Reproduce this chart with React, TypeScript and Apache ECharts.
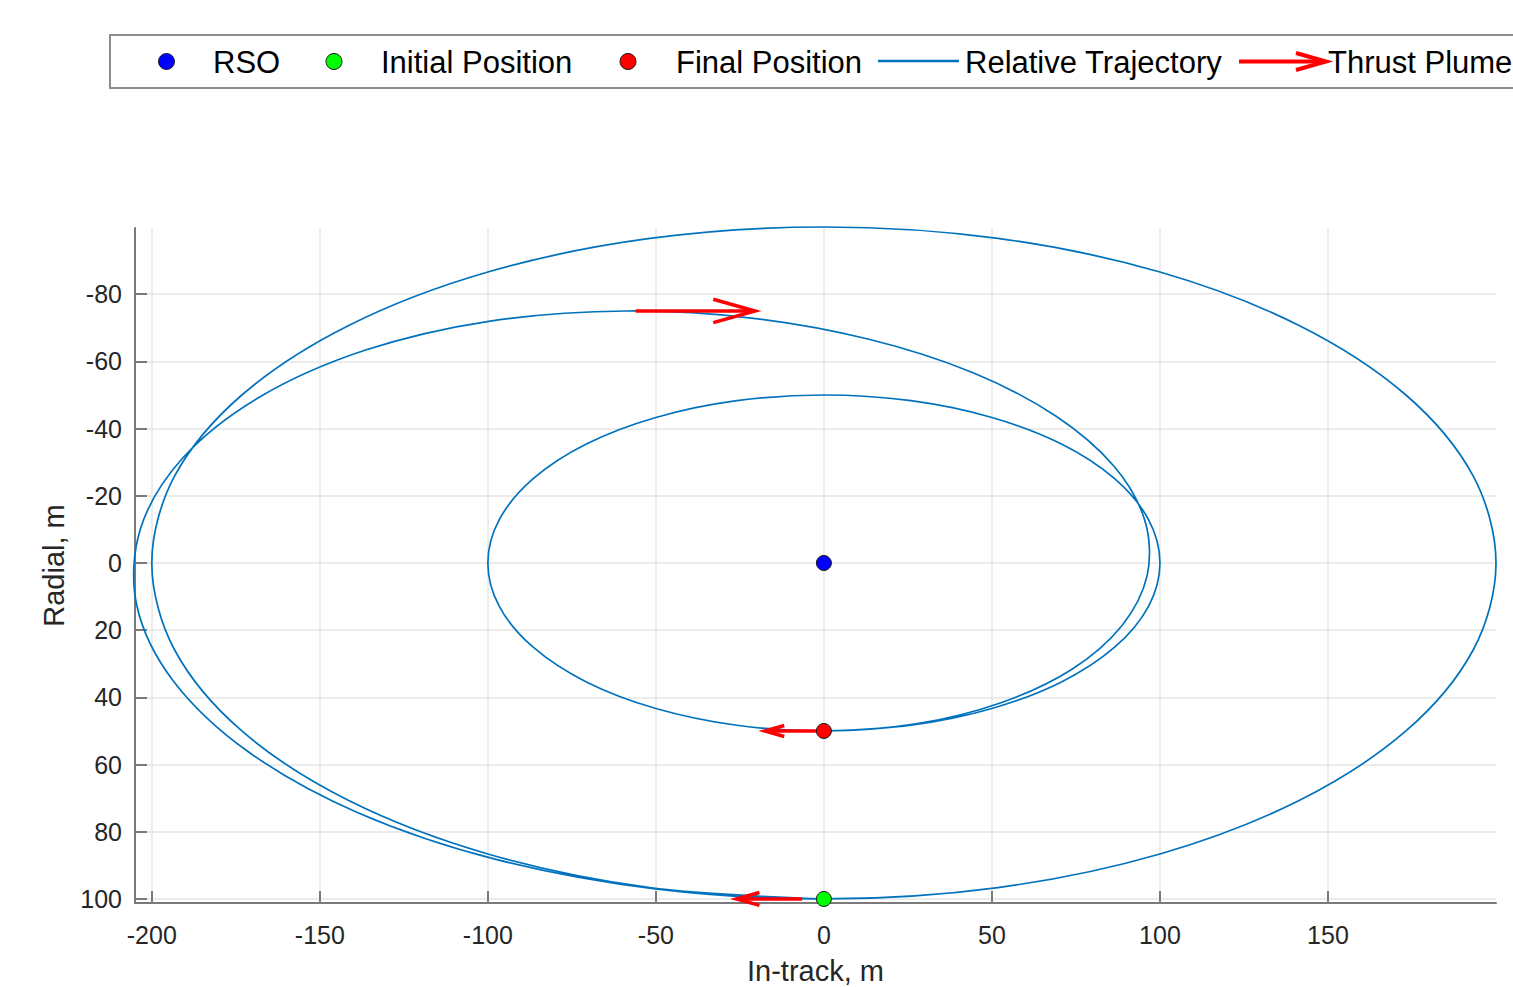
import React, { useEffect, useRef } from 'react';
import * as echarts from 'echarts';

// Axis ticks and ranges
const X_TICKS = [-200, -150, -100, -50, 0, 50, 100, 150];
const Y_TICKS = [-80, -60, -40, -20, 0, 20, 40, 60, 80, 100];
const X_MIN = -205;
const X_MAX = 200;
const Y_MIN = -99.7;
const Y_MAX = 101.2;

// Markers
const RSO = [[0, 0]];
const INITIAL_POSITION = [[0, 100]];
const FINAL_POSITION = [[0, 50]];

// Relative trajectory: [in-track, radial]
const ORBIT_INITIAL = [
  [0, 100], [-51.8, 96.6], [-100, 86.6], [-141.4, 70.7], [-173.2, 50], [-193.2, 25.9],
  [-200, 0], [-193.2, -25.9], [-173.2, -50], [-141.4, -70.7], [-100, -86.6], [-51.8, -96.6],
  [0, -100], [51.8, -96.6], [100, -86.6], [141.4, -70.7], [173.2, -50], [193.2, -25.9],
  [200, 0], [193.2, 25.9], [173.2, 50], [141.4, 70.7], [100, 86.6], [51.8, 96.6], [0, 100],
];
const TRANSFER_1 = [
  [-50.2, 97.0], [-97.3, 88.3], [-138.5, 74.4], [-171.2, 56.25], [-193.6, 35.1], [-204.5, 12.5],
  [-203.4, -10.1], [-190.8, -31.25], [-167.9, -49.4], [-136.6, -63.3], [-99.3, -72.0], [-58.9, -75],
];
const TRANSFER_2 = [
  [-21.6, -72.9], [13.4, -66.6], [44.2, -56.7], [69.0, -43.75], [86.4, -28.7], [95.55, -12.5],
  [96.2, 3.7], [88.6, 18.75], [73.7, 31.7], [52.7, 41.6], [27.45, 47.9], [0, 50],
];
const ORBIT_FINAL = [
  [-25.9, 48.3], [-50, 43.3], [-70.7, 35.4], [-86.6, 25], [-96.6, 12.9], [-100, 0],
  [-96.6, -12.9], [-86.6, -25], [-70.7, -35.4], [-50, -43.3], [-25.9, -48.3], [0, -50],
  [25.9, -48.3], [50, -43.3], [70.7, -35.4], [86.6, -25], [96.6, -12.9], [100, 0],
  [96.6, 12.9], [86.6, 25], [70.7, 35.4], [50, 43.3], [25.9, 48.3], [0, 50],
];

// Thrust plumes
const PLUME_Y = [100, -75, 50];
const PLUME_FROM_X = [-6.5, -56, -1];
const PLUME_TO_X = [-26, -20.5, -17.6];

// Legend entries
const LEGEND_NAMES = ['RSO', 'Initial Position', 'Final Position', 'Relative Trajectory', 'Thrust Plume'];

const TRAJECTORY = [...ORBIT_INITIAL, ...TRANSFER_1, ...TRANSFER_2, ...ORBIT_FINAL];
const PLUMES = PLUME_Y.map((y, i) => [PLUME_FROM_X[i], y, PLUME_TO_X[i], y]);

const FONT = "'Liberation Sans', Arial, Helvetica, sans-serif";
const AXIS_COLOR = '#7a7a7a';
const TEXT_COLOR = '#262626';
const GRID_COLOR = '#e6e6e6';
const TRAJ_COLOR = '#0072BD';
const RED = '#ff0000';
const BLUE = '#0000ff';
const GREEN = '#00ff00';
const EDGE = '#1a1a1a';

function buildLegend() {
  const cy = 62;
  const text = (x: number, t: string) => ({
    type: 'text',
    x,
    y: cy,
    z: 11,
    silent: true,
    style: {
      text: t,
      fill: '#000000',
      fontSize: 31,
      fontFamily: FONT,
      verticalAlign: 'middle',
      align: 'left',
    },
  });
  const dot = (x: number, fill: string) => ({
    type: 'circle',
    z: 11,
    silent: true,
    shape: { cx: x, cy: cy - 0.5, r: 8 },
    style: { fill, stroke: EDGE, lineWidth: 1 },
  });
  return [
    {
      type: 'rect',
      z: 10,
      silent: true,
      shape: { x: 110, y: 35, width: 1440, height: 53 },
      style: { fill: '#ffffff', stroke: '#8c8c8c', lineWidth: 2 },
    },
    dot(166.5, BLUE),
    text(213, LEGEND_NAMES[0]),
    dot(334, GREEN),
    text(381, LEGEND_NAMES[1]),
    dot(628, RED),
    text(676, LEGEND_NAMES[2]),
    {
      type: 'line',
      z: 11,
      silent: true,
      shape: { x1: 878, y1: cy - 1, x2: 959, y2: cy - 1 },
      style: { stroke: TRAJ_COLOR, lineWidth: 2.5 },
    },
    text(965, LEGEND_NAMES[3]),
    {
      type: 'line',
      z: 11,
      silent: true,
      shape: { x1: 1239, y1: cy - 0.5, x2: 1322, y2: cy - 0.5 },
      style: { stroke: RED, lineWidth: 4 },
    },
    {
      type: 'polyline',
      z: 11,
      silent: true,
      shape: { points: [[1296, cy - 9], [1326, cy - 0.5], [1296, cy + 8]] },
      style: { stroke: RED, lineWidth: 4, fill: 'none', lineJoin: 'miter' },
    },
    text(1328, LEGEND_NAMES[4]),
  ];
}

export default function App() {
  const ref = useRef<HTMLDivElement>(null);

  useEffect(() => {
    if (!ref.current) return;
    const chart = echarts.init(ref.current, null, { renderer: 'svg' });

    const markerStyle = (color: string) => ({
      color,
      borderColor: EDGE,
      borderWidth: 1,
      opacity: 1,
    });

    chart.setOption({
      animation: false,
      backgroundColor: '#ffffff',
      textStyle: { fontFamily: FONT },
      graphic: buildLegend(),
      grid: {
        left: 135,
        top: 228,
        width: 1361,
        height: 675,
        containLabel: false,
        outerBoundsMode: 'none',
      },
      xAxis: {
        type: 'value',
        min: X_MIN,
        max: X_MAX,
        name: 'In-track, m',
        nameLocation: 'middle',
        nameGap: 53,
        nameTextStyle: { fontSize: 29, color: TEXT_COLOR, fontFamily: FONT },
        axisLine: { show: true, onZero: false, lineStyle: { color: AXIS_COLOR, width: 2 } },
        axisTick: {
          show: true,
          inside: true,
          length: 12,
          customValues: X_TICKS,
          lineStyle: { color: AXIS_COLOR, width: 2 },
        },
        axisLabel: {
          customValues: X_TICKS,
          fontSize: 25,
          color: TEXT_COLOR,
          margin: 19,
          fontFamily: FONT,
        },
        splitLine: { show: true, lineStyle: { color: GRID_COLOR, width: 1.5 } },
      },
      yAxis: {
        type: 'value',
        inverse: true,
        min: Y_MIN,
        max: Y_MAX,
        name: 'Radial, m',
        nameLocation: 'middle',
        nameGap: 67,
        nameTextStyle: { fontSize: 29, color: TEXT_COLOR, fontFamily: FONT },
        axisLine: { show: true, onZero: false, lineStyle: { color: AXIS_COLOR, width: 2 } },
        axisTick: {
          show: true,
          inside: true,
          length: 12,
          customValues: Y_TICKS,
          lineStyle: { color: AXIS_COLOR, width: 2 },
        },
        axisLabel: {
          customValues: Y_TICKS,
          fontSize: 25,
          color: TEXT_COLOR,
          margin: 13,
          fontFamily: FONT,
        },
        splitLine: { show: true, lineStyle: { color: GRID_COLOR, width: 1.5 } },
      },
      series: [
        {
          name: 'Relative Trajectory',
          type: 'custom',
          data: TRAJECTORY,
          encode: { x: 0, y: 1 },
          itemStyle: { color: TRAJ_COLOR },
          z: 2,
          renderItem: (params: any, api: any) => {
            if (params.dataIndexInside !== 0) return null;
            const points = TRAJECTORY.map((p) => api.coord(p));
            return {
              type: 'polyline',
              shape: { points, smooth: 0.33 },
              style: { stroke: TRAJ_COLOR, lineWidth: 1.7, fill: 'none' },
            };
          },
        },
        {
          name: 'Thrust Plume',
          type: 'custom',
          data: PLUMES,
          encode: { x: [0, 2], y: [1, 3] },
          itemStyle: { color: RED },
          z: 3,
          renderItem: (_params: any, api: any) => {
            const p0 = api.coord([api.value(0), api.value(1)]);
            const p1 = api.coord([api.value(2), api.value(3)]);
            const dx = p1[0] - p0[0];
            const dy = p1[1] - p0[1];
            const len = Math.hypot(dx, dy) || 1;
            const ux = dx / len;
            const uy = dy / len;
            const h = 0.35 * len;
            const w = 0.28 * h;
            const bx = p1[0] - ux * h;
            const by = p1[1] - uy * h;
            const left = [bx - uy * w, by + ux * w];
            const right = [bx + uy * w, by - ux * w];
            return {
              type: 'group',
              children: [
                {
                  type: 'line',
                  shape: { x1: p0[0], y1: p0[1], x2: p1[0] - ux * 2, y2: p1[1] - uy * 2 },
                  style: { stroke: RED, lineWidth: 3.5, fill: 'none' },
                },
                {
                  type: 'polyline',
                  shape: { points: [left, p1, right] },
                  style: { stroke: RED, lineWidth: 3.5, fill: 'none', lineJoin: 'miter' },
                },
              ],
            };
          },
        },
        {
          name: 'RSO',
          type: 'scatter',
          data: RSO,
          symbol: 'circle',
          symbolSize: 15,
          itemStyle: markerStyle(BLUE),
          z: 5,
        },
        {
          name: 'Initial Position',
          type: 'scatter',
          data: INITIAL_POSITION,
          symbol: 'circle',
          symbolSize: 15,
          itemStyle: markerStyle(GREEN),
          z: 5,
        },
        {
          name: 'Final Position',
          type: 'scatter',
          data: FINAL_POSITION,
          symbol: 'circle',
          symbolSize: 15,
          itemStyle: markerStyle(RED),
          z: 5,
        },
      ],
    });

    return () => chart.dispose();
  }, []);

  return (
    <div
      ref={ref}
      style={{ position: 'fixed', left: 0, top: 0, width: 1513, height: 987, background: '#fff' }}
    />
  );
}
